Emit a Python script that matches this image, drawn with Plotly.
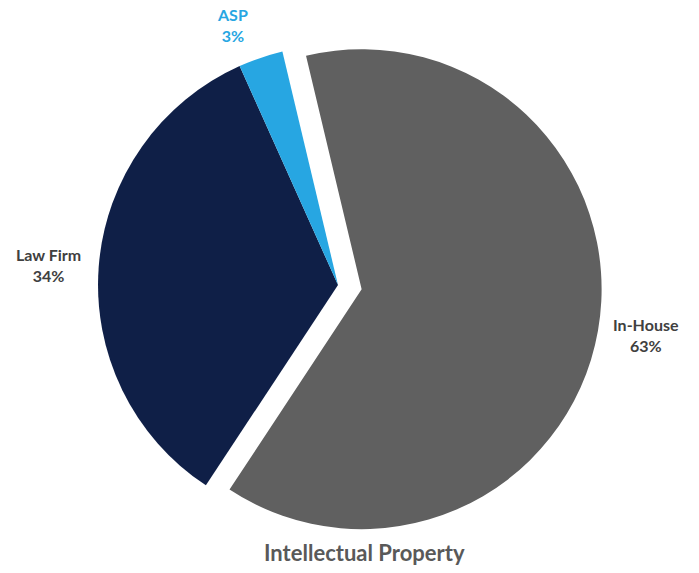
import plotly.graph_objects as go

# Share of intellectual property work by provider type
categories = ["In-House", "Law Firm", "ASP"]
shares = [63, 34, 3]
slice_colors = ["#606060", "#0f1f47", "#27a6e2"]
label_colors = ["#404040", "#404040", "#27a6e2"]
pulls = [0.1, 0, 0]
chart_title = "Intellectual Property"

W, H = 699, 573

fig = go.Figure(
    go.Pie(
        labels=categories,
        values=shares,
        sort=False,
        direction="clockwise",
        rotation=-13.4,
        pull=pulls,
        marker=dict(colors=slice_colors, line=dict(color="white", width=0)),
        textinfo="none",
        hoverinfo="label+percent",
        showlegend=False,
        domain=dict(x=[0.1059, 0.8612], y=[0.0419, 0.9633]),
    )
)

# Category labels placed outside the slices
label_pos = {"In-House": (0.924, 0.415), "Law Firm": (0.0687, 0.5375), "ASP": (0.332, 0.956)}
for name, val, col in zip(categories, shares, label_colors):
    x, y = label_pos[name]
    fig.add_annotation(
        x=x, y=y, xref="paper", yref="paper",
        xanchor="center", yanchor="middle",
        text=f"<b>{name}<br>{val}%</b>",
        showarrow=False,
        font=dict(family="Lato, Open Sans, sans-serif", size=16, color=col),
        align="center",
    )

fig.add_annotation(
    x=0.521, y=0.035, xref="paper", yref="paper",
    xanchor="center", yanchor="middle",
    text=f"<b>{chart_title}</b>",
    showarrow=False,
    font=dict(family="Lato, Open Sans, sans-serif", size=22, color="#595959"),
)

fig.update_layout(
    width=W, height=H,
    margin=dict(l=0, r=0, t=0, b=0),
    paper_bgcolor="white",
    plot_bgcolor="white",
)

fig.write_html("out.html")
